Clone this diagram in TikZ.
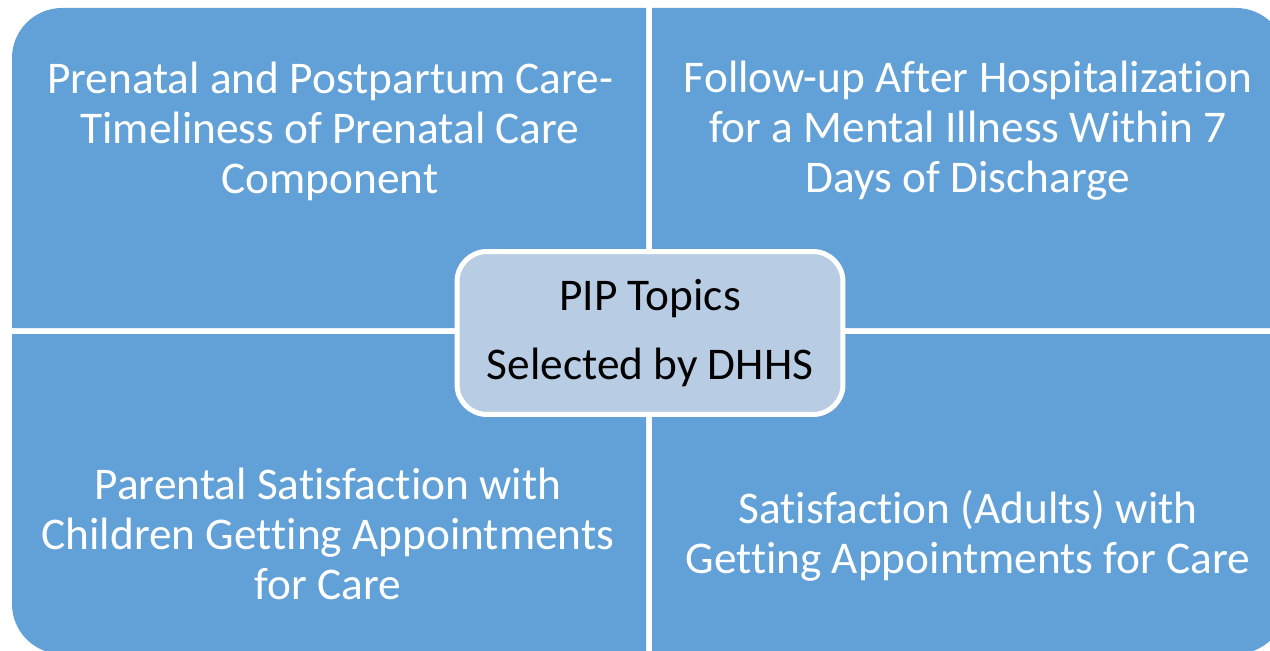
\documentclass[tikz,border=0pt]{standalone}
\usepackage{fontspec}
\setmainfont{Carlito}[Ligatures={NoCommon}]
\usetikzlibrary{positioning}
\definecolor{quadblue}{RGB}{98,161,215}
\definecolor{hubblue}{RGB}{184,204,228}

\begin{document}
\begin{tikzpicture}[x=0.02cm, y=0.02cm,
every node/.style = {align=center, font=\fontsize{25.8}{28.5}\selectfont},
quad/.style = {fill=quadblue},
topic/.style = {text=white},
hub/.style = {shape=rectangle, rounded corners=0.6cm, draw=white, line width=0.1cm, fill=hubblue,
  minimum width=7.72cm, minimum height=3.26cm}]

  \useasboundingbox (0,0) rectangle (1270,650);
  \clip (0,0) rectangle (1270,650);

  % four panels, each one rounded on its outer corner
  \fill[quad] (12,322) -- (12,592) arc[start angle=180, end angle=90, radius=50] -- (646,642) -- (646,322) -- cycle;
  \fill[quad] (652,322) -- (652,642) -- (1236,642) arc[start angle=90, end angle=0, radius=50] -- (1286,322) -- cycle;
  \fill[quad] (12,316) -- (646,316) -- (646,-4) -- (62,-4) arc[start angle=270, end angle=180, radius=50] -- cycle;
  \fill[quad] (652,316) -- (1286,316) -- (1286,46) arc[start angle=0, end angle=-90, radius=50] -- (652,-4) -- cycle;

  \node[topic] (prenatal) at (330,519) {Prenatal and Postpartum Care-\\Timeliness of Prenatal Care\\Component};
  \node[topic] (followup) at (968,519) {Follow-up After Hospitalization\\for a Mental Illness Within 7\\Days of Discharge};
  \node[topic] (parental) at (328,116) {Parental Satisfaction with\\Children Getting Appointments\\for Care};
  \node[topic] (adults) at (968,114) {Satisfaction (Adults) with\\Getting Appointments for Care};

  % centre box on top
  \node[hub] (pip) at (650,317) {PIP Topics\\[11pt]Selected by DHHS};
\end{tikzpicture}
\end{document}
